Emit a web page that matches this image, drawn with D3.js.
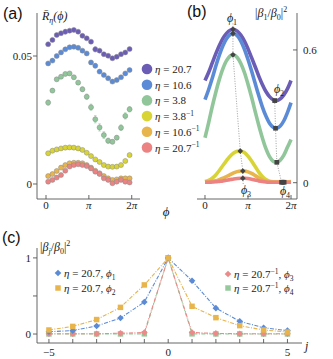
<!DOCTYPE html>
<html><head><meta charset="utf-8">
<script src="https://cdn.jsdelivr.net/npm/d3@7"></script>
<style>
body{margin:0;background:#fff}
svg{display:block}
text{font-family:"Liberation Serif","Times New Roman",serif;fill:#222}
.plab{font-family:"Liberation Sans",Arial,sans-serif;font-size:16px;fill:#111}
</style></head><body>
<svg id="c" width="333" height="359"></svg>
<script>
// ---------------- data ----------------
const etaValues = ["20.7","10.6","3.8","3.8","10.6","20.7"];
const etaInverse = [false,false,false,true,true,true];
const colors = ["#6b5cb6","#5b8bd6","#90c69a","#d8d436","#e8b44c","#ec8282"];

// panel (a): R̄_η(ϕ), 20 samples at bin centres
const nBins = 20;
const rPurple = [0.0546,0.0563,0.0582,0.0589,0.0595,0.0599,0.0602,0.0595,0.0579,0.0569,0.0556,0.0526,0.0521,0.0507,0.0501,0.0491,0.0497,0.0507,0.0514,0.0527];
const rBlue   = [0.0471,0.0482,0.0500,0.0514,0.0526,0.0534,0.0536,0.0532,0.0521,0.0510,0.0475,0.0462,0.0439,0.0426,0.0413,0.0400,0.0406,0.0417,0.0432,0.0445];
const rGreen  = [0.0318,0.0365,0.0409,0.0419,0.0430,0.0432,0.0417,0.0396,0.0370,0.0341,0.0300,0.0253,0.0221,0.0191,0.0169,0.0165,0.0181,0.0220,0.0266,0.0292];
const rYellow = [0.0120,0.0130,0.0135,0.0139,0.0142,0.0143,0.0142,0.0139,0.0133,0.0122,0.0109,0.0096,0.0086,0.0074,0.0068,0.0067,0.0068,0.0074,0.0090,0.0113];
const rOrange = [0.0031,0.0039,0.0051,0.0064,0.0074,0.0081,0.0083,0.0083,0.0081,0.0074,0.0064,0.0052,0.0042,0.0031,0.0022,0.0016,0.0018,0.0022,0.0022,0.0022];
const rRed    = [0.0009,0.0016,0.0025,0.0035,0.0052,0.0068,0.0074,0.0077,0.0074,0.0070,0.0061,0.0048,0.0039,0.0022,0.0016,0.0003,0.0009,0.0016,0.0009,0.0006];
const ePurple = [0.0003,0.0003,0.0004,0.0003,0.0008,0.0004,0.0003,0.0003,0.0004,0.0003,0.0004,0.0009,0.0005,0.0004,0.0003,0.0004,0.0003,0.0003,0.0003,0.0003];
const eBlue   = [0.0003,0.0003,0.0004,0.0003,0.0004,0.0003,0.0003,0.0003,0.0004,0.0004,0.0007,0.0008,0.0005,0.0004,0.0004,0.0003,0.0003,0.0004,0.0003,0.0003];
const eGreen  = [0.0010,0.0008,0.0006,0.0006,0.0006,0.0006,0.0007,0.0007,0.0009,0.0010,0.0012,0.0014,0.0014,0.0013,0.0010,0.0008,0.0008,0.0011,0.0012,0.0010];
const eYellow = [0.0006,0.0007,0.0008,0.0006,0.0007,0.0006,0.0007,0.0008,0.0006,0.0005,0.0004,0.0004,0.0003,0.0003,0.0003,0.0003,0.0003,0.0003,0.0004,0.0005];
const eOrange = [0.0005,0.0004,0.0005,0.0004,0.0004,0.0005,0.0004,0.0004,0.0004,0.0004,0.0004,0.0004,0.0004,0.0004,0.0003,0.0003,0.0003,0.0003,0.0003,0.0003];
const eRed    = [0.0004,0.0004,0.0005,0.0004,0.0005,0.0005,0.0004,0.0004,0.0004,0.0005,0.0004,0.0004,0.0004,0.0004,0.0003,0.0003,0.0003,0.0003,0.0003,0.0003];

// panel (b): |β1/β0|^2 at ϕ in degrees
const phiDegB = [0,15,30,45,60,75,90,105,120,135,150,165,180,195,210,225,240,255,270,285,300,315,330,345,360];
const bPurple = [0.462,0.498,0.540,0.582,0.620,0.652,0.675,0.689,0.693,0.685,0.667,0.640,0.605,0.565,0.524,0.482,0.444,0.412,0.389,0.375,0.371,0.379,0.397,0.424,0.462];
const bBlue   = [0.375,0.420,0.471,0.526,0.577,0.619,0.651,0.669,0.674,0.664,0.640,0.603,0.557,0.505,0.449,0.394,0.343,0.301,0.269,0.251,0.246,0.256,0.280,0.317,0.362];
const bGreen  = [0.203,0.270,0.342,0.408,0.467,0.516,0.552,0.573,0.578,0.566,0.539,0.498,0.445,0.386,0.322,0.260,0.203,0.154,0.118,0.097,0.092,0.102,0.125,0.160,0.195];
const bYellow = [0.005,0.010,0.020,0.035,0.055,0.078,0.100,0.120,0.134,0.142,0.143,0.136,0.120,0.098,0.073,0.048,0.028,0.014,0.007,0.004,0.003,0.003,0.003,0.004,0.005];
const bOrange = [0.003,0.004,0.006,0.009,0.014,0.020,0.028,0.036,0.044,0.050,0.053,0.053,0.049,0.042,0.032,0.022,0.013,0.007,0.004,0.003,0.003,0.003,0.003,0.003,0.003];
const bRed    = [0.002,0.002,0.003,0.004,0.006,0.008,0.011,0.014,0.017,0.019,0.020,0.020,0.019,0.016,0.012,0.008,0.005,0.003,0.002,0.002,0.002,0.002,0.002,0.002,0.002];
// markers (ϕ in units of π)
const maxPhi = [0.65,0.65,0.65,0.82,0.88,0.88];
const maxVal = [0.693,0.674,0.578,0.143,0.053,0.020];
const minPhi = [1.62,1.64,1.67,1.78,1.81,1.84];
const minVal = [0.371,0.246,0.092,0.002,0.002,0.002];

// panel (c): |βj/β0|^2
const jVals = [-5,-4,-3,-2,-1,0,1,2,3,4,5];
const cBlue   = [0.030,0.045,0.105,0.210,0.420,1.0,0.700,0.340,0.167,0.083,0.045];
const cOrange = [0.053,0.100,0.190,0.350,0.645,1.0,0.364,0.215,0.110,0.053,0.026];
const cRed    = [0.003,0.003,0.004,0.010,0.020,1.0,0.020,0.008,0.004,0.003,0.003];
const cGreen  = [0.001,0.001,0.001,0.001,0.002,1.0,0.002,0.001,0.001,0.001,0.001];

// ---------------- drawing ----------------
const svg = d3.select("#c");
const PI = Math.PI;
const axisCol = "#555";

function line(g,x1,y1,x2,y2,w){g.append("line").attr("x1",x1).attr("y1",y1).attr("x2",x2).attr("y2",y2).attr("stroke",axisCol).attr("stroke-width",w||0.9);}
function txt(g,x,y,s,anchor,size,italic){return g.append("text").attr("x",x).attr("y",y).attr("text-anchor",anchor||"start").attr("font-size",size||11).attr("font-style",italic?"italic":"normal").text(s);}
function piLabel(g,x,y,k){
  const t=g.append("text").attr("x",x).attr("y",y).attr("text-anchor","middle").attr("font-size",11);
  if(k===0) t.text("0"); else { if(k===2) t.append("tspan").text("2"); t.append("tspan").attr("font-style","italic").text("π"); }
}

// ===== panel (a) =====
const xa = d3.scaleLinear().domain([-0.66, 6.89]).range([37,140]);
const ya = d3.scaleLinear().domain([-0.00586, 0.0668]).range([199,13]);
const ga = svg.append("g");
line(ga, xa.range()[0], ya.range()[0], xa.range()[0], ya.range()[1]);
line(ga, xa.range()[0], ya.range()[0], xa.range()[1], ya.range()[0]);
[0,0.05].forEach(v=>{ line(ga,33,ya(v),37,ya(v)); txt(ga,32,ya(v)+4,v===0?"0":"0.05","end"); });
[0,1,2].forEach(k=>{ line(ga,xa(k*PI),199,xa(k*PI),195); piLabel(ga,xa(k*PI),209,k); });
const rSeries=[rPurple,rBlue,rGreen,rYellow,rOrange,rRed];
const eSeries=[ePurple,eBlue,eGreen,eYellow,eOrange,eRed];
const phiA = d3.range(nBins).map(k=>(k+0.5)*2*PI/nBins);
rSeries.forEach((s,i)=>{
  const g=ga.append("g");
  s.forEach((v,k)=>{
    const e=eSeries[i][k], x=xa(phiA[k]);
    g.append("line").attr("x1",x).attr("x2",x).attr("y1",ya(v-e)).attr("y2",ya(v+e)).attr("stroke",colors[i]).attr("stroke-width",0.8).attr("opacity",0.75);
    [v-e,v+e].forEach(w=>g.append("line").attr("x1",x-1.3).attr("x2",x+1.3).attr("y1",ya(w)).attr("y2",ya(w)).attr("stroke",colors[i]).attr("stroke-width",0.8).attr("opacity",0.75));
  });
  g.selectAll("circle").data(s).join("circle").attr("cx",(d,k)=>xa(phiA[k])).attr("cy",d=>ya(d)).attr("r",2.5)
    .attr("fill",colors[i]).attr("stroke","#8a8a8a").attr("stroke-width",0.5);
});
// y label (a)
{const t=ga.append("text").attr("x",42).attr("y",20).attr("font-size",12).attr("font-style","italic");
 t.append("tspan").text("R\u0304");
 t.append("tspan").attr("font-size",8).attr("dy",3).text("η");
 t.append("tspan").attr("dy",-3).text("(ϕ)");}
svg.append("text").attr("class","plab").attr("x",3).attr("y",19).text("(a)");
// legend (a)
etaValues.forEach((v,i)=>{
  const y=69+i*15.7;
  svg.append("circle").attr("cx",147).attr("cy",y).attr("r",5.3).attr("fill",colors[i]);
  const t=svg.append("text").attr("x",155).attr("y",y+4).attr("font-size",11);
  t.append("tspan").attr("font-style","italic").text("η");
  t.append("tspan").text(" = "+v);
  if(etaInverse[i]) t.append("tspan").attr("font-size",7.5).attr("dy",-4.5).text("−1");
});
// phi axis label
txt(svg,166,216,"ϕ","middle",13,true);

// ===== panel (b) =====
const xb = d3.scaleLinear().domain([-0.584, 6.72]).range([197,297]);
const yb = d3.scaleLinear().domain([-0.0737, 0.767]).range([199,13]);
const gb = svg.append("g");
line(gb, 297, 199, 297, 13);
line(gb, 197, 199, 297, 199);
[0,0.6].forEach(v=>{ line(gb,293,yb(v),297,yb(v)); txt(gb,303,yb(v)+4,v===0?"0":"0.6","start"); });
[0,1,2].forEach(k=>{ line(gb,xb(k*PI),199,xb(k*PI),195); piLabel(gb,xb(k*PI),209,k); });
const bSeries=[bPurple,bBlue,bGreen,bYellow,bOrange,bRed];
const lineB = d3.line().x((d,k)=>xb(phiDegB[k]*PI/180)).y(d=>yb(d)).curve(d3.curveCatmullRom);
bSeries.forEach((s,i)=>{
  gb.append("path").attr("d",lineB(s)).attr("fill","none").attr("stroke",colors[i]).attr("stroke-width",3.6).attr("stroke-linecap","butt");
});
// dotted guide lines
const dot = d3.line().x(d=>xb(d[0]*PI)).y(d=>yb(d[1]));
gb.append("path").attr("d",dot([[maxPhi[0],0.72]].concat(maxPhi.map((p,i)=>[p,maxVal[i]])).concat([[0.89,-0.01]])))
  .attr("fill","none").attr("stroke","#888").attr("stroke-width",0.8).attr("stroke-dasharray","1,1.5");
gb.append("path").attr("d",dot(minPhi.map((p,i)=>[p,minVal[i]])))
  .attr("fill","none").attr("stroke","#888").attr("stroke-width",0.8).attr("stroke-dasharray","1,1.5");
maxPhi.forEach((p,i)=>{
  gb.append("path").attr("d",d3.symbol(d3.symbolSquare,16)()).attr("transform",`translate(${xb(p*PI)},${yb(maxVal[i])}) rotate(45)`).attr("fill","#444");
});
minPhi.forEach((p,i)=>{
  gb.append("path").attr("d",d3.symbol(d3.symbolSquare,22)()).attr("transform",`translate(${xb(p*PI)},${yb(minVal[i])})`).attr("fill","#444");
});
function phiSub(g,x,y,n){const t=g.append("text").attr("x",x).attr("y",y).attr("text-anchor","middle").attr("font-size",12);
  t.append("tspan").attr("font-style","italic").text("ϕ"); t.append("tspan").attr("font-size",8).attr("dy",3).text(n);}
phiSub(gb,232,22,"1");
phiSub(gb,279,93,"2");
phiSub(gb,246,194,"3");
phiSub(gb,285,195,"4");
{const t=gb.append("text").attr("x",255).attr("y",17).attr("font-size",12);
 t.append("tspan").text("|");
 t.append("tspan").attr("font-style","italic").text("β");
 t.append("tspan").attr("font-size",8).attr("dy",3).text("1");
 t.append("tspan").attr("dy",-3).text("/");
 t.append("tspan").attr("font-style","italic").text("β");
 t.append("tspan").attr("font-size",8).attr("dy",3).text("0");
 t.append("tspan").attr("dy",-3).text("|");
 t.append("tspan").attr("font-size",8).attr("dy",-5).text("2");}
svg.append("text").attr("class","plab").attr("x",187).attr("y",17).text("(b)");

// ===== panel (c) =====
const xc = d3.scaleLinear().domain([-5.5, 5.61]).range([37,302]);
const yc = d3.scaleLinear().domain([-0.118, 1.13]).range([343,248]);
const gc = svg.append("g");
line(gc, 37, 343, 37, 248);
line(gc, 37, 343, 302, 343);
[0,0.5,1].forEach(v=>{ line(gc,33,yc(v),37,yc(v)); if(v!==0.5) txt(gc,31,yc(v)+4,String(v),"end"); });
jVals.forEach(j=>{ line(gc,xc(j),343,xc(j),339); });
[-5,0,5].forEach(j=>txt(gc,xc(j),356,j<0?"−"+(-j):String(j),"middle"));
txt(gc,305,350,"j","start",12,true);
{const t=gc.append("text").attr("x",40).attr("y",251).attr("font-size",12);
 t.append("tspan").text("|");
 t.append("tspan").attr("font-style","italic").text("β");
 t.append("tspan").attr("font-size",8).attr("dy",3).attr("font-style","italic").text("j");
 t.append("tspan").attr("dy",-3).text("/");
 t.append("tspan").attr("font-style","italic").text("β");
 t.append("tspan").attr("font-size",8).attr("dy",3).text("0");
 t.append("tspan").attr("dy",-3).text("|");
 t.append("tspan").attr("font-size",8).attr("dy",-5).text("2");}
svg.append("text").attr("class","plab").attr("x",2).attr("y",243).text("(c)");

const cCol = {blue:"#5b8bd6", orange:"#e8b44c", red:"#ec8a8a", green:"#94c99c"};
const cSeries = [
  {d:cGreen, c:cCol.green, m:"square"},
  {d:cRed, c:cCol.red, m:"diamond"},
  {d:cBlue, c:cCol.blue, m:"diamond"},
  {d:cOrange, c:cCol.orange, m:"square"}
];
const lineC = d3.line().x((d,k)=>xc(jVals[k])).y(d=>yc(d));
function marker(g,m,x,y,c){
  if(m==="diamond") g.append("path").attr("d",d3.symbol(d3.symbolSquare,22)()).attr("transform",`translate(${x},${y}) rotate(45)`).attr("fill",c);
  else g.append("path").attr("d",d3.symbol(d3.symbolSquare,30)()).attr("transform",`translate(${x},${y})`).attr("fill",c);
}
cSeries.forEach(s=>{
  gc.append("path").attr("d",lineC(s.d)).attr("fill","none").attr("stroke",s.c).attr("stroke-width",1.1).attr("stroke-dasharray","4,1.5,1,1.5");
  s.d.forEach((v,k)=>marker(gc,s.m,xc(jVals[k]),yc(v),s.c));
});
// legend (c)
function legC(x,y,m,c,eta,inv,n){
  marker(svg,m,x,y,c);
  const t=svg.append("text").attr("x",x+6).attr("y",y+4).attr("font-size",11);
  t.append("tspan").attr("font-style","italic").text("η");
  t.append("tspan").text(" = "+eta);
  if(inv){ t.append("tspan").attr("font-size",7.5).attr("dy",-4.5).text("−1"); t.append("tspan").attr("dy",4.5).text(", "); }
  else t.append("tspan").text(", ");
  t.append("tspan").attr("font-style","italic").text("ϕ");
  t.append("tspan").attr("font-size",7.5).attr("dy",3).text(n);
}
legC(58,273,"diamond",cCol.blue,"20.7",false,"1");
legC(58,288,"square",cCol.orange,"20.7",false,"2");
legC(228,274,"diamond",cCol.red,"20.7",true,"3");
legC(228,288,"square",cCol.green,"20.7",true,"4");
</script></body></html>
